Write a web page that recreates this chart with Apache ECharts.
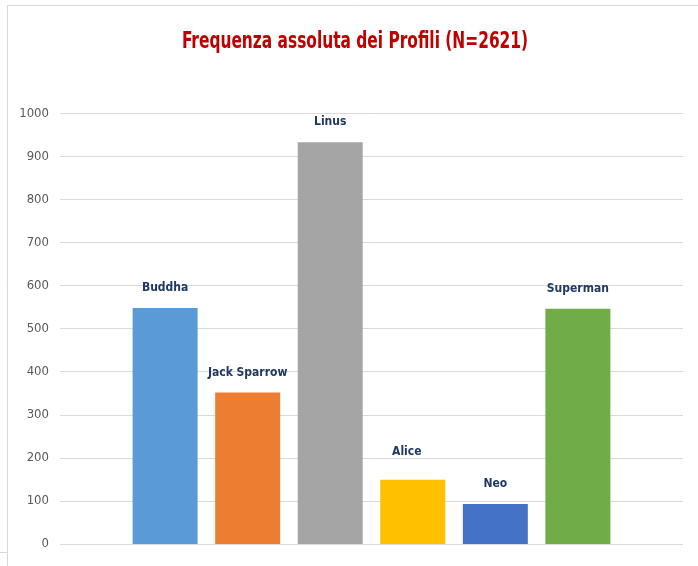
<!DOCTYPE html>
<html>
<head>
<meta charset="utf-8">
<script src="https://cdn.jsdelivr.net/npm/echarts@6/dist/echarts.min.js"></script>
<style>
html,body{margin:0;padding:0;background:#fff;}
#chart{width:698px;height:566px;}
</style>
</head>
<body>
<div id="chart"></div>
<script>
const chartTitle = 'Frequenza assoluta dei Profili (N=2621)';
const profiles = ['Buddha', 'Jack Sparrow', 'Linus', 'Alice', 'Neo', 'Superman'];
const counts = [548, 352, 933, 149, 93, 546];
const yTicks = [0, 100, 200, 300, 400, 500, 600, 700, 800, 900, 1000];
const palette = ['#5B9BD5', '#ED7D31', '#A5A5A5', '#FFC000', '#4472C4', '#70AD47'];

const FONT = "'DejaVu Sans Condensed', 'Liberation Sans Narrow', sans-serif";
// manual label nudges (style only), as in the original where one label was dragged
const labelNudge = { Alice: [-6, -8] };

const chart = echarts.init(document.getElementById('chart'));
chart.setOption({
  animation: false,
  backgroundColor: '#ffffff',
  legend: { show: false },
  graphic: [
    { type: 'line', shape: { x1: 7.5, y1: 5, x2: 7.5, y2: 566 }, style: { stroke: '#d9d9d9', lineWidth: 1 } },
    { type: 'line', shape: { x1: 7.5, y1: 5.5, x2: 698, y2: 5.5 }, style: { stroke: '#d9d9d9', lineWidth: 1 } },
    { type: 'line', shape: { x1: 0, y1: 552.5, x2: 7, y2: 552.5 }, style: { stroke: '#d9d9d9', lineWidth: 1 } },
    {
      type: 'text',
      x: 355,
      y: 42.5,
      scaleX: 0.745,
      style: {
        text: chartTitle,
        fill: '#C00000',
        fontSize: 23,
        fontWeight: 'bold',
        fontFamily: FONT,
        align: 'center',
        verticalAlign: 'middle'
      }
    }
  ],
  grid: { left: 60, right: 15, top: 113.3, bottom: 22, containLabel: false },
  xAxis: {
    type: 'category',
    data: [''],
    axisLine: { show: false },
    axisTick: { show: false },
    axisLabel: { show: false }
  },
  yAxis: {
    type: 'value',
    min: yTicks[0],
    max: yTicks[yTicks.length - 1],
    interval: yTicks[1] - yTicks[0],
    axisLine: { show: false },
    axisTick: { show: false },
    axisLabel: { color: '#595959', fontSize: 13, fontFamily: FONT, margin: 11, formatter: v => String(v) },
    splitLine: { lineStyle: { color: '#d9d9d9', width: 1 } }
  },
  series: profiles.map((name, i) => ({
    type: 'bar',
    name: name,
    data: [counts[i]],
    barWidth: 65,
    barGap: '27%',
    itemStyle: { color: palette[i] },
    label: {
      show: true,
      position: 'top',
      distance: 14,
      offset: labelNudge[name] || [0, 0],
      formatter: '{a}',
      color: '#1F3864',
      fontWeight: 'bold',
      fontSize: 12,
      fontFamily: FONT
    }
  }))
});
</script>
</body>
</html>
